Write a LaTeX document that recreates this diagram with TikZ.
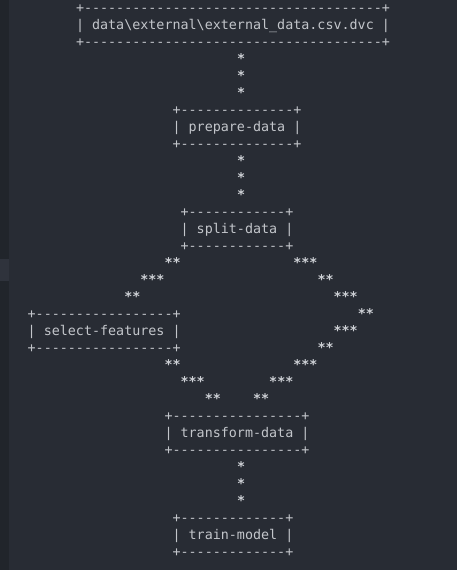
\documentclass[tikz,border=0pt]{standalone}
\usepackage{fontspec}
\setmonofont{DejaVu Sans Mono}
\definecolor{bg}{HTML}{282C34}
\definecolor{gutter}{HTML}{21252B}
\definecolor{gutterhl}{HTML}{2F333C}
\definecolor{fg}{HTML}{C3C6CB}
\definecolor{astfg}{HTML}{CDD0D5}
\begin{document}
\begin{tikzpicture}[x=1pt,y=-1pt,
  txt/.style={anchor=base west,inner sep=0pt,outer sep=0pt,text=fg,
    font=\ttfamily\fontsize{13.37}{17}\selectfont},
  ast/.style={txt,text=astfg,font=\ttfamily\bfseries\fontsize{13.37}{17}\selectfont}]
\useasboundingbox (0,0) rectangle (457,570);
\fill[bg] (0,0) rectangle (457,570);
\fill[gutter] (0,0) rectangle (9,570);
\fill[gutterhl] (0,259) rectangle (9,281);
% column c left edge: 27.7+8.05c ; row r baseline: 12.5+17r
% data\external\external_data.csv.dvc
\node[txt] (dvcT) at ({27.7+8.05*6},{12.5+17*0}) {+-------------------------------------+};
\node[txt] (dvc)  at ({27.7+8.05*6},{12.5+17*1}) {| data\textbackslash external\textbackslash external\_data.csv.dvc |};
\node[txt] (dvcB) at ({27.7+8.05*6},{12.5+17*2}) {+-------------------------------------+};
\node[ast] (a1) at ({27.7+8.05*26},{12.5+17*3}) {*};
\node[ast] (a2) at ({27.7+8.05*26},{12.5+17*4}) {*};
\node[ast] (a3) at ({27.7+8.05*26},{12.5+17*5}) {*};
% prepare-data
\node[txt] (prepT) at ({27.7+8.05*18},{12.5+17*6}) {+--------------+};
\node[txt] (prep)  at ({27.7+8.05*18},{12.5+17*7}) {| prepare-data |};
\node[txt] (prepB) at ({27.7+8.05*18},{12.5+17*8}) {+--------------+};
\node[ast] (b1) at ({27.7+8.05*26},{12.5+17*9}) {*};
\node[ast] (b2) at ({27.7+8.05*26},{12.5+17*10}) {*};
\node[ast] (b3) at ({27.7+8.05*26},{12.5+17*11}) {*};
% split-data
\node[txt] (splitT) at ({27.7+8.05*19},{12.5+17*12}) {+------------+};
\node[txt] (split)  at ({27.7+8.05*19},{12.5+17*13}) {| split-data |};
\node[txt] (splitB) at ({27.7+8.05*19},{12.5+17*14}) {+------------+};
% left branch split -> select
\node[ast] (l1) at ({27.7+8.05*17},{12.5+17*15}) {**};
\node[ast] (l2) at ({27.7+8.05*14},{12.5+17*16}) {***};
\node[ast] (l3) at ({27.7+8.05*12},{12.5+17*17}) {**};
% right branch split -> transform
\node[ast] (r1) at ({27.7+8.05*33},{12.5+17*15}) {***};
\node[ast] (r2) at ({27.7+8.05*36},{12.5+17*16}) {**};
\node[ast] (r3) at ({27.7+8.05*38},{12.5+17*17}) {***};
\node[ast] (r4) at ({27.7+8.05*41},{12.5+17*18}) {**};
\node[ast] (r5) at ({27.7+8.05*38},{12.5+17*19}) {***};
\node[ast] (r6) at ({27.7+8.05*36},{12.5+17*20}) {**};
\node[ast] (r7) at ({27.7+8.05*33},{12.5+17*21}) {***};
\node[ast] (r8) at ({27.7+8.05*30},{12.5+17*22}) {***};
\node[ast] (r9) at ({27.7+8.05*28},{12.5+17*23}) {**};
% select-features
\node[txt] (selT) at ({27.7+8.05*0},{12.5+17*18}) {+-----------------+};
\node[txt] (sel)  at ({27.7+8.05*0},{12.5+17*19}) {| select-features |};
\node[txt] (selB) at ({27.7+8.05*0},{12.5+17*20}) {+-----------------+};
% select -> transform
\node[ast] (m1) at ({27.7+8.05*17},{12.5+17*21}) {**};
\node[ast] (m2) at ({27.7+8.05*19},{12.5+17*22}) {***};
\node[ast] (m3) at ({27.7+8.05*22},{12.5+17*23}) {**};
% transform-data
\node[txt] (trT) at ({27.7+8.05*17},{12.5+17*24}) {+----------------+};
\node[txt] (tr)  at ({27.7+8.05*17},{12.5+17*25}) {| transform-data |};
\node[txt] (trB) at ({27.7+8.05*17},{12.5+17*26}) {+----------------+};
\node[ast] (c1) at ({27.7+8.05*26},{12.5+17*27}) {*};
\node[ast] (c2) at ({27.7+8.05*26},{12.5+17*28}) {*};
\node[ast] (c3) at ({27.7+8.05*26},{12.5+17*29}) {*};
% train-model
\node[txt] (tmT) at ({27.7+8.05*18},{12.5+17*30}) {+-------------+};
\node[txt] (tm)  at ({27.7+8.05*18},{12.5+17*31}) {| train-model |};
\node[txt] (tmB) at ({27.7+8.05*18},{12.5+17*32}) {+-------------+};
\end{tikzpicture}
\end{document}
